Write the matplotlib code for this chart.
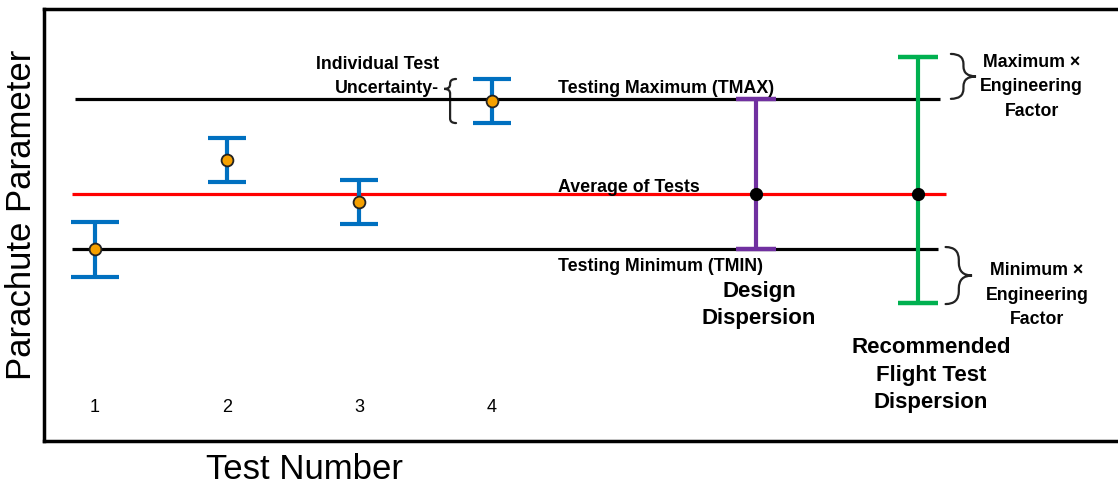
import numpy as np
import matplotlib
matplotlib.use("Agg")
import matplotlib.pyplot as plt
from matplotlib.path import Path
from matplotlib.patches import PathPatch

plt.rcParams['font.family'] = ['Liberation Sans', 'DejaVu Sans']

# data (arbitrary parameter units)
test_numbers = [1, 2, 3, 4]
test_values = [44.4, 65.0, 55.3, 78.7]
test_uncert = [6.4, 5.1, 5.1, 5.1]
test_capsize = [17, 14, 14, 14]

t_max = 79.2
t_avg = 57.2
t_min = 44.4

design_x = 6.0
flight_x = 7.22
flight_low = 31.9
flight_high = 88.9

BLUE = '#0070C0'
RED = '#FF0000'
PURPLE = '#7030A0'
GREEN = '#00B050'
ORANGE = '#F5A000'


def brace(ax, x, y0, y1, w, ytip=None, lw=1.6):
    """Curly brace from y0 to y1 at x, tip pointing to x+w."""
    if ytip is None:
        ytip = (y0 + y1) / 2
    s = np.sign(y1 - y0)
    r = min(abs(ytip - y0), abs(y1 - ytip)) * 0.45
    xm = x + w / 2
    verts = [(x, y0), (xm, y0), (xm, y0 + s * r),
             (xm, ytip - s * r),
             (xm, ytip), (x + w, ytip),
             (xm, ytip), (xm, ytip + s * r),
             (xm, y1 - s * r),
             (xm, y1), (x, y1)]
    codes = [Path.MOVETO, Path.CURVE3, Path.CURVE3,
             Path.LINETO,
             Path.CURVE3, Path.CURVE3,
             Path.CURVE3, Path.CURVE3,
             Path.LINETO,
             Path.CURVE3, Path.CURVE3]
    ax.add_patch(PathPatch(Path(verts, codes), fill=False, lw=lw,
                           edgecolor='#222222', capstyle='round'))


fig = plt.figure(figsize=(11.18, 4.89), dpi=100)
ax = fig.add_axes([44 / 1118, 47 / 489, 1 - 44 / 1118 + 0.01, 432 / 489])
ax.set_xlim(0.6157, 8.709 + 0.0134 * 8.1)
ax.set_ylim(0, 100)
ax.set_xticks([])
ax.set_yticks([])
for sp in ax.spines.values():
    sp.set_linewidth(2.5)
ax.spines['right'].set_visible(False)

# reference lines
ax.hlines(t_max, 0.85, 7.39, color='black', lw=2.3, zorder=2)
ax.hlines(t_avg, 0.83, 7.43, color=RED, lw=2.3, zorder=2)
ax.hlines(t_min, 0.83, 7.37, color='black', lw=2.3, zorder=2)

# individual tests
for x, v, e, cs in zip(test_numbers, test_values, test_uncert, test_capsize):
    ax.errorbar(x, v, yerr=e, fmt='none', ecolor=BLUE, elinewidth=3,
                capsize=cs, capthick=3, zorder=3)
    ax.plot(x, v, 'o', ms=8.5, mfc=ORANGE, mec='#222222', mew=1.3, zorder=4)
    ax.text(x, 7.9, str(x), ha='center', va='center', fontsize=13)

# design dispersion
ax.errorbar(design_x, t_avg, yerr=[[t_avg - t_min], [t_max - t_avg]],
            fmt='none', ecolor=PURPLE, elinewidth=3, capsize=14.5,
            capthick=3.2, zorder=3)
ax.plot(design_x, t_avg, 'o', ms=8.5, color='black', zorder=4)

# flight test dispersion
ax.errorbar(flight_x, t_avg, yerr=[[t_avg - flight_low], [flight_high - t_avg]],
            fmt='none', ecolor=GREEN, elinewidth=3, capsize=14.5,
            capthick=3.2, zorder=3)
ax.plot(flight_x, t_avg, 'o', ms=8.5, color='black', zorder=4)

# labels along lines
bold = dict(fontsize=12.8, fontweight='bold')
ax.text(4.5, 81.9, 'Testing Maximum (TMAX)', ha='left', va='center', **bold)
ax.text(4.5, 59.0, 'Average of Tests', ha='left', va='center', **bold)
ax.text(4.5, 40.7, 'Testing Minimum (TMIN)', ha='left', va='center', **bold)

ax.text(3.6, 87.3, 'Individual Test', ha='right', va='center', **bold)
ax.text(3.6, 81.8, 'Uncertainty-', ha='right', va='center', **bold)
brace(ax, 3.73, test_values[3] + test_uncert[3], test_values[3] - test_uncert[3],
      -0.09, ytip=test_values[3] + test_uncert[3] - 2.3)

ax.text(design_x + 0.02, 31.7, 'Design\nDispersion', ha='center', va='center',
        fontsize=16, fontweight='bold', linespacing=1.33)
ax.text(7.32, 15.5, 'Recommended\nFlight Test\nDispersion', ha='center',
        va='center', fontsize=16, fontweight='bold', linespacing=1.38)

# engineering factor braces
brace(ax, 7.47, flight_high + 0.7, t_max, 0.19)
ax.text(8.08, 82.2, 'Maximum \u00d7\nEngineering\nFactor', ha='center',
        va='center', fontsize=12.8, fontweight='bold', linespacing=1.58)
brace(ax, 7.43, t_min + 0.5, flight_low - 0.2, 0.2)
ax.text(8.12, 34.0, 'Minimum \u00d7\nEngineering\nFactor', ha='center',
        va='center', fontsize=12.8, fontweight='bold', linespacing=1.58)

fig.text(22 / 1118, 1 - 215 / 489, 'Parachute Parameter', rotation=90,
         ha='center', va='center', fontsize=25)
fig.text(305 / 1118, 1 - 470 / 489, 'Test Number', ha='center', va='center',
         fontsize=25)

fig.savefig('out.png', dpi=100)
